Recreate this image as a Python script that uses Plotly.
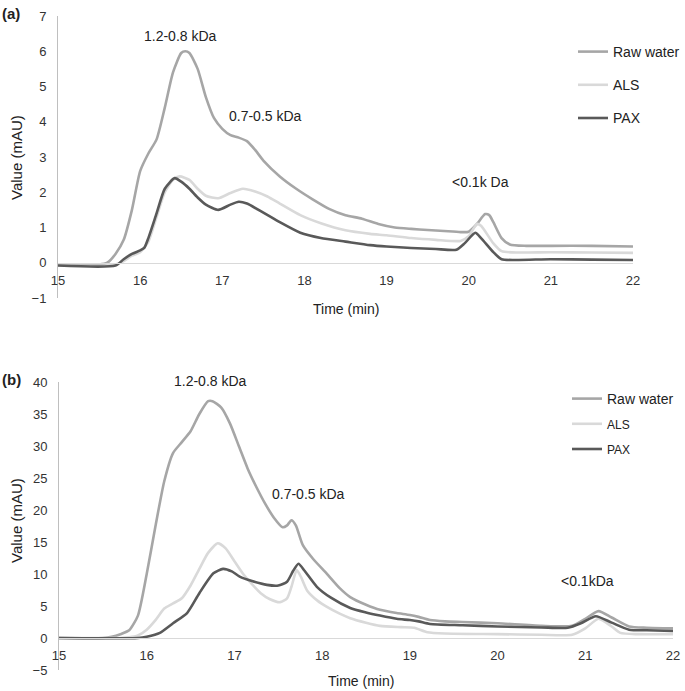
import plotly.graph_objects as go

# ---------------- Panel (a) data ----------------
a_raw_x = [15.0, 15.5, 15.6, 15.7, 15.8, 15.9, 16.0, 16.1, 16.2, 16.3, 16.4, 16.5, 16.55, 16.6, 16.7, 16.8, 16.9, 17.0, 17.1, 17.2, 17.3, 17.4, 17.5, 17.7, 17.9, 18.1, 18.3, 18.5, 18.7, 18.9, 19.1, 19.3, 19.5, 19.7, 19.9, 20.0, 20.1, 20.2, 20.25, 20.3, 20.4, 20.5, 20.7, 21.0, 21.5, 22.0]
a_raw_y = [-0.05, -0.05, 0.0, 0.25, 0.65, 1.5, 2.6, 3.1, 3.5, 4.4, 5.4, 5.95, 6.0, 5.95, 5.5, 4.7, 4.1, 3.8, 3.62, 3.55, 3.45, 3.2, 2.9, 2.45, 2.1, 1.8, 1.53, 1.35, 1.25, 1.1, 1.0, 0.96, 0.93, 0.9, 0.87, 0.88, 1.1, 1.38, 1.35, 1.15, 0.7, 0.52, 0.48, 0.48, 0.48, 0.46]

a_als_x = [15.0, 15.6, 15.7, 15.8, 15.9, 16.0, 16.1, 16.2, 16.3, 16.4, 16.48, 16.6, 16.7, 16.8, 16.95, 17.1, 17.25, 17.4, 17.55, 17.7, 17.95, 18.2, 18.5, 18.8, 19.0, 19.3, 19.6, 19.9, 20.0, 20.1, 20.15, 20.3, 20.4, 20.6, 21.0, 21.5, 22.0]
a_als_y = [-0.08, -0.08, -0.05, 0.05, 0.2, 0.3, 0.6, 1.3, 2.0, 2.35, 2.45, 2.35, 2.1, 1.9, 1.83, 1.98, 2.1, 2.02, 1.88, 1.68, 1.35, 1.12, 0.92, 0.82, 0.78, 0.7, 0.65, 0.62, 0.75, 1.1, 1.05, 0.55, 0.33, 0.29, 0.3, 0.29, 0.28]

a_pax_x = [15.0, 15.7, 15.8, 15.9, 16.0, 16.05, 16.1, 16.2, 16.3, 16.42, 16.5, 16.6, 16.7, 16.8, 16.95, 17.1, 17.2, 17.3, 17.5, 17.7, 17.95, 18.2, 18.5, 18.8, 19.0, 19.3, 19.6, 19.85, 19.95, 20.08, 20.15, 20.3, 20.4, 20.6, 21.0, 21.5, 22.0]
a_pax_y = [-0.08, -0.08, 0.1, 0.25, 0.35, 0.42, 0.7, 1.4, 2.1, 2.4, 2.3, 2.1, 1.85, 1.65, 1.5, 1.65, 1.73, 1.68, 1.42, 1.15, 0.85, 0.7, 0.6, 0.5, 0.46, 0.42, 0.39, 0.37, 0.55, 0.85, 0.7, 0.3, 0.1, 0.08, 0.1, 0.09, 0.08]

# ---------------- Panel (b) data ----------------
b_raw_x = [15.0, 15.5, 15.6, 15.7, 15.8, 15.9, 16.0, 16.1, 16.2, 16.3, 16.4, 16.5, 16.6, 16.7, 16.75, 16.85, 16.95, 17.05, 17.15, 17.25, 17.35, 17.45, 17.55, 17.6, 17.65, 17.7, 17.78, 17.9, 18.05, 18.2, 18.32, 18.5, 18.66, 18.85, 19.0, 19.1, 19.23, 19.4, 19.6, 20.0, 20.5, 20.85, 21.0, 21.15, 21.3, 21.5, 21.7, 22.0]
b_raw_y = [0, 0, 0.2, 0.6, 1.2, 3.5, 10.0, 17.5, 24.5, 28.9, 30.6, 32.3, 35.0, 37.0, 37.0, 36.0, 33.5, 30.0, 26.5, 23.6, 21.0, 18.8, 17.3, 17.6, 18.4, 17.6, 14.5, 12.3, 10.1, 7.8, 6.4, 5.2, 4.4, 3.9, 3.6, 3.3, 2.8, 2.6, 2.5, 2.3, 1.9, 1.9, 3.0, 4.2, 3.2, 1.8, 1.6, 1.5]

b_als_x = [15.0, 15.7, 15.8, 15.9, 16.0, 16.1, 16.2, 16.3, 16.4, 16.5, 16.6, 16.7, 16.81, 16.9, 17.0, 17.1, 17.2, 17.3, 17.4, 17.52, 17.6, 17.65, 17.71, 17.76, 17.83, 17.95, 18.05, 18.2, 18.32, 18.5, 18.66, 18.9, 19.05, 19.2, 19.4, 20.0, 20.5, 20.85, 21.0, 21.15, 21.3, 21.4, 21.6, 22.0]
b_als_y = [0, 0, 0.1, 0.4, 1.3, 2.8, 4.6, 5.4, 6.2, 8.2, 10.8, 13.3, 14.8, 14.0, 12.0, 10.0, 8.4, 7.0, 6.1, 5.6, 6.2, 8.0, 10.6, 9.5, 7.4, 5.8, 4.9, 3.8, 3.1, 2.4, 1.9, 1.7, 1.6, 0.9, 0.7, 0.6, 0.5, 0.5, 1.5, 3.0, 1.8, 0.8, 0.6, 0.6]

b_pax_x = [15.0, 15.9, 16.0, 16.15, 16.3, 16.46, 16.6, 16.76, 16.87, 16.97, 17.06, 17.2, 17.37, 17.5, 17.6, 17.67, 17.73, 17.8, 17.94, 18.1, 18.32, 18.5, 18.66, 18.85, 19.0, 19.1, 19.23, 19.6, 20.0, 20.5, 20.8, 20.95, 21.12, 21.3, 21.5, 21.7, 22.0]
b_pax_y = [0, 0, 0.2, 0.8, 2.3, 3.9, 7.0, 10.1, 10.8, 10.4, 9.6, 8.9, 8.3, 8.2, 8.8, 10.5, 11.6, 10.5, 8.0, 6.3, 4.7, 4.0, 3.5, 3.0, 2.8, 2.6, 2.2, 2.0, 1.8, 1.65, 1.6, 2.3, 3.4, 2.4, 1.3, 1.2, 1.1]

series_names = ["Raw water", "ALS", "PAX"]
series_names_b = ["Raw water", "<span style='font-size:12px'>ALS</span>", "<span style='font-size:12px'>PAX</span>"]
series_colors = ["#a6a6a6", "#d9d9d9", "#595959"]

x_ticks = [15, 16, 17, 18, 19, 20, 21, 22]

FONT = "Liberation Sans, Arial, sans-serif"
W, H = 685, 691

fig = go.Figure()

panel_a = [(a_raw_x, a_raw_y), (a_als_x, a_als_y), (a_pax_x, a_pax_y)]
panel_b = [(b_raw_x, b_raw_y), (b_als_x, b_als_y), (b_pax_x, b_pax_y)]

for i, (xs, ys) in enumerate(panel_a):
    fig.add_trace(go.Scatter(
        x=xs, y=ys, mode="lines", name=series_names[i],
        line=dict(color=series_colors[i], width=2.6, shape="spline", smoothing=0.6),
        xaxis="x", yaxis="y", legend="legend", legendgroup="a" + str(i),
    ))
for i, (xs, ys) in enumerate(panel_b):
    fig.add_trace(go.Scatter(
        x=xs, y=ys, mode="lines", name=series_names_b[i],
        line=dict(color=series_colors[i], width=2.6, shape="spline", smoothing=0.6),
        xaxis="x2", yaxis="y2", legend="legend2", legendgroup="b" + str(i),
    ))

def px_x(p):
    return p / W

def px_y(p):
    return 1 - p / H

tickfont = dict(family=FONT, size=13, color="#333333")

common_x = dict(range=[15, 22], tickvals=x_ticks, anchor="free", showgrid=False,
                zeroline=False, showline=True, linecolor="#d9d9d9", linewidth=1,
                ticks="", tickfont=tickfont, ticklabelstandoff=5, automargin=False)
common_y = dict(showgrid=False, zeroline=False, showline=True, linecolor="#bfbfbf",
                linewidth=1, ticks="", tickfont=tickfont, ticklabelstandoff=8,
                automargin=False)

fig.update_layout(
    width=W, height=H,
    margin=dict(l=0, r=0, t=0, b=0, autoexpand=False),
    paper_bgcolor="white", plot_bgcolor="white",
    font=dict(family=FONT, size=13, color="#222222"),
    xaxis=dict(domain=[px_x(58), px_x(633)], position=px_y(263), **common_x),
    yaxis=dict(domain=[px_y(298), px_y(16)], range=[-1, 7], dtick=1, anchor="x", **common_y),
    xaxis2=dict(domain=[px_x(59), px_x(673)], position=px_y(638), **common_x),
    yaxis2=dict(domain=[px_y(670), px_y(382)], range=[-5, 40], dtick=5, anchor="x2", **common_y),
    legend=dict(x=px_x(573), y=px_y(36), xanchor="left", yanchor="top",
                traceorder="grouped", tracegroupgap=12, bgcolor="rgba(0,0,0,0)",
                font=dict(family=FONT, size=14, color="#222222"), itemwidth=30),
    legend2=dict(x=px_x(567), y=px_y(383), xanchor="left", yanchor="top",
                 traceorder="grouped", tracegroupgap=4, bgcolor="rgba(0,0,0,0)",
                 font=dict(family=FONT, size=14, color="#222222"), itemwidth=30),
    showlegend=True,
)

def ann(text, x, y, size=14, bold=False, angle=0, xanchor="center"):
    fig.add_annotation(
        text=("<b>%s</b>" % text) if bold else text,
        x=px_x(x), y=px_y(y), xref="paper", yref="paper",
        showarrow=False, textangle=angle,
        font=dict(family=FONT, size=size, color="#222222"),
        xanchor=xanchor, yanchor="middle",
    )

# panel labels
ann("(a)", 0, 13, size=15, bold=True, xanchor="left")
ann("(b)", 0, 379, size=15, bold=True, xanchor="left")
# axis titles
ann("Value (mAU)", 16, 158, size=15, angle=-90)
ann("Value (mAU)", 16, 521, size=15, angle=-90)
ann("Time (min)", 346, 309)
ann("Time (min)", 361, 681)
# peak labels
ann("1.2-0.8 kDa", 180, 36)
ann("0.7-0.5 kDa", 265, 116)
ann("&lt;0.1k Da", 480, 182)
ann("1.2-0.8 kDa", 210, 381)
ann("0.7-0.5 kDa", 308, 494)
ann("&lt;0.1kDa", 587, 581)

fig.write_html("out.html", config={"displayModeBar": False},
               post_script="document.body.style.margin='0';document.body.style.overflow='hidden';")
